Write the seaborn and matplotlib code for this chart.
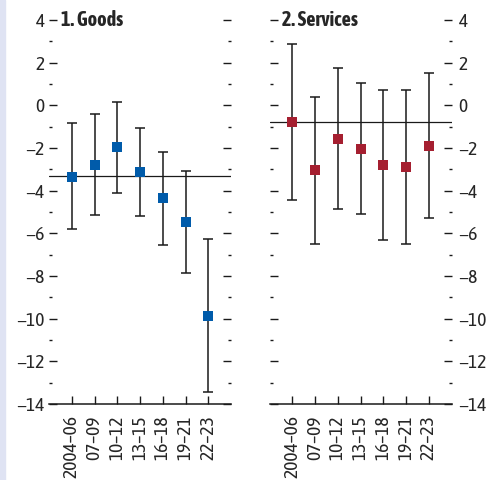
import matplotlib
matplotlib.use("Agg")
import matplotlib.pyplot as plt
from matplotlib.ticker import MultipleLocator
from matplotlib.patches import Rectangle
import pandas as pd
import seaborn as sns

# data
periods = ["2004–06", "07–09", "10–12", "13–15", "16–18", "19–21", "22–23"]

goods_mid = [-3.35, -2.78, -1.97, -3.13, -4.33, -5.46, -9.88]
goods_lo = [-5.81, -5.14, -4.13, -5.17, -6.53, -7.88, -13.44]
goods_hi = [-0.84, -0.42, 0.17, -1.06, -2.17, -3.07, -6.27]
goods_avg = -3.33

serv_mid = [-0.77, -3.02, -1.56, -2.03, -2.78, -2.88, -1.89]
serv_lo = [-4.43, -6.52, -4.86, -5.11, -6.31, -6.49, -5.30]
serv_hi = [2.86, 0.39, 1.73, 1.06, 0.72, 0.73, 1.51]
serv_avg = -0.80

panels = ["1. Goods", "2. Services"]
colors = ["#005BAA", "#A51F30"]

sns.set_style("white")
plt.rcParams["font.family"] = ["Liberation Sans Narrow", "Asap Condensed", "DejaVu Sans"]
plt.rcParams["font.size"] = 11

fig = plt.figure(figsize=(4.92, 4.80), dpi=100)
# thin tinted strip on the left edge
fig.patches.append(Rectangle((0, 0), 5 / 492, 1, transform=fig.transFigure,
                             color="#DFE3F3", zorder=0))

ax1 = fig.add_axes([49 / 492, 76 / 480, 182 / 492, 384 / 480])
ax2 = fig.add_axes([269.5 / 492, 76 / 480, 182 / 492, 384 / 480])

series = [(goods_mid, goods_lo, goods_hi, goods_avg),
          (serv_mid, serv_lo, serv_hi, serv_avg)]

for i, (ax, (mid, lo, hi, avg)) in enumerate(zip([ax1, ax2], series)):
    df = pd.DataFrame({"period": periods, "value": mid})
    pos = range(len(periods))
    yerr = [[m - l for m, l in zip(mid, lo)], [h - m for m, h in zip(mid, hi)]]
    ax.errorbar(list(pos), mid, yerr=yerr, fmt="none", ecolor="#1a1a1a",
                elinewidth=1.1, capsize=3.3, capthick=1.1, zorder=2)
    ax.axhline(avg, color="#1a1a1a", lw=0.9, zorder=1)
    sns.stripplot(data=df, x="period", y="value", jitter=False, marker="s",
                  size=7.5, color=colors[i], linewidth=0, ax=ax, zorder=3)

    ax.set_xlim(-1, 7)
    ax.set_ylim(-14, 4)
    ax.set_xlabel("")
    ax.set_ylabel("")
    ax.set_facecolor("none")
    for s in ["top", "left", "right"]:
        ax.spines[s].set_visible(False)
    ax.spines["bottom"].set_color("#1a1a1a")
    ax.spines["bottom"].set_linewidth(1.1)

    ax.yaxis.set_major_locator(MultipleLocator(2))
    ax.yaxis.set_minor_locator(MultipleLocator(1))
    ax.tick_params(axis="y", which="both", direction="in", left=True, right=True,
                   color="#1a1a1a", width=1.0, labelsize=14, pad=4)
    ax.tick_params(axis="y", which="major", length=5.5)
    ax.tick_params(axis="y", which="minor", length=2.5)
    ax.tick_params(axis="x", which="major", direction="in", bottom=True, length=5.5,
                   width=1.0, color="#1a1a1a", labelsize=14, pad=8, labelrotation=90)
    ax.tick_params(axis="x", which="minor", bottom=False)
    ax.text(12 / 182 if i == 0 else 13 / 182, 1.0, panels[i], transform=ax.transAxes,
            ha="left", va="center", fontsize=14.5, fontweight="bold")

ax1.tick_params(axis="y", labelleft=True, labelright=False, pad=3)
ax2.tick_params(axis="y", labelleft=False, labelright=True, pad=5)

fig.savefig("out.png", dpi=100)
